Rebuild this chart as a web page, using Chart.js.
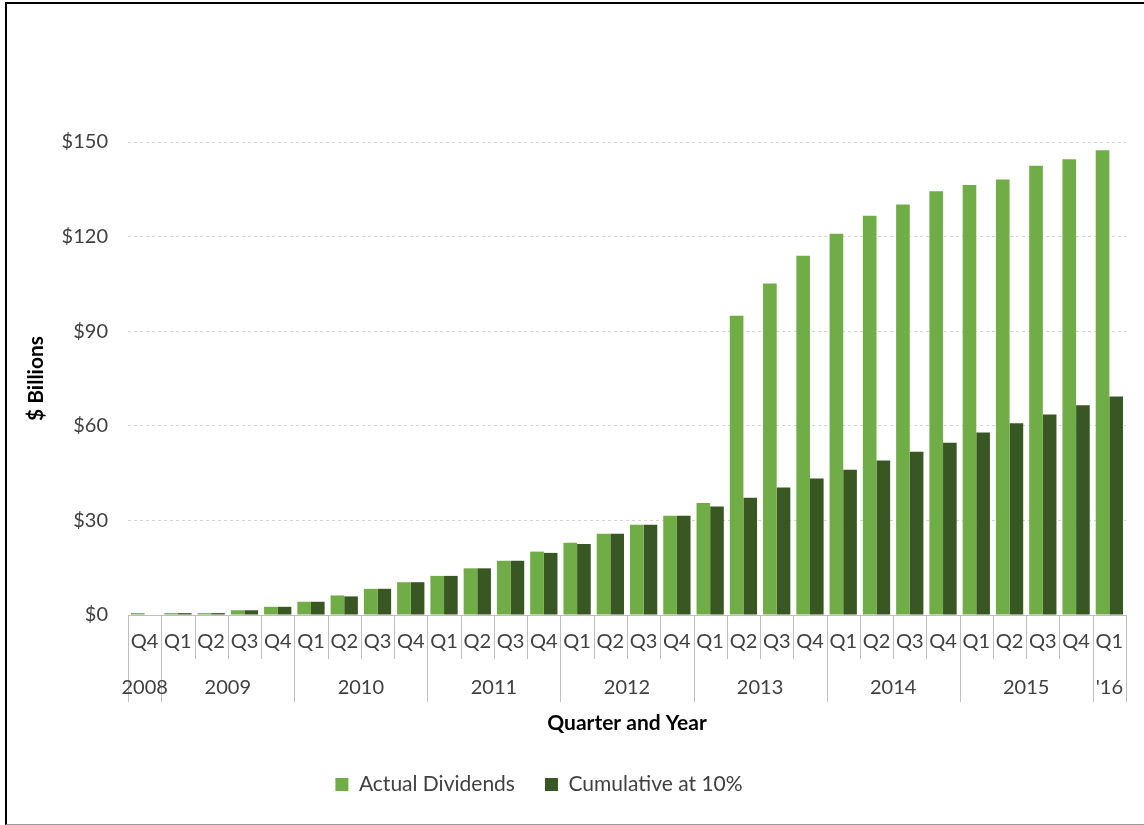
<!DOCTYPE html>
<html>
<head>
<meta charset="utf-8">
<script src="https://cdn.jsdelivr.net/npm/chart.js@4"></script>
<style>
  body { margin: 0; background: #fff; }
  #wrap { position: relative; width: 1144px; height: 825px; }
  #frame {
    position: absolute; left: 5px; top: 2px; width: 1150px; height: 820px;
    border-left: 2px solid #000; border-top: 2px solid #000; border-bottom: 1px solid #9a9a9a;
    pointer-events: none;
  }
</style>
</head>
<body>
<div id="wrap">
  <canvas id="dividendChart"></canvas>
  <div id="frame"></div>
</div>
<script>
// 분기 라벨 (Q4 2008 ~ Q1 2016)
const quarterLabels = ['Q4',
  'Q1', 'Q2', 'Q3', 'Q4',
  'Q1', 'Q2', 'Q3', 'Q4',
  'Q1', 'Q2', 'Q3', 'Q4',
  'Q1', 'Q2', 'Q3', 'Q4',
  'Q1', 'Q2', 'Q3', 'Q4',
  'Q1', 'Q2', 'Q3', 'Q4',
  'Q1', 'Q2', 'Q3', 'Q4',
  'Q1'];

// 연도 라벨과 각 연도가 차지하는 분기 수
const yearLabels = ['2008', '2009', '2010', '2011', '2012', '2013', '2014', '2015', "'16"];
const yearSpans = [1, 4, 4, 4, 4, 4, 4, 4, 1];

// 시리즈 값 ($ Billions)
const actualDividends = [0.6,
  0.6, 0.6, 1.5, 2.6,
  4.2, 6.2, 8.3, 10.4,
  12.4, 14.8, 17.2, 20.1,
  22.9, 25.8, 28.6, 31.5,
  35.5, 94.9, 105.1, 113.9,
  120.9, 126.6, 130.2, 134.4,
  136.4, 138.1, 142.5, 144.5,
  147.4];
const cumulativeAt10 = [0,
  0.6, 0.6, 1.5, 2.6,
  4.2, 5.9, 8.3, 10.4,
  12.4, 14.8, 17.2, 19.7,
  22.5, 25.8, 28.6, 31.5,
  34.4, 37.2, 40.4, 43.3,
  46.1, 49.0, 51.8, 54.6,
  57.9, 60.8, 63.6, 66.5,
  69.3];

const yTicks = [0, 30, 60, 90, 120, 150];

const LIGHT_GREEN = '#70ad47';
const DARK_GREEN = '#385723';
const TEXT_COLOR = '#404040';
const LINE_COLOR = '#bfbfbf';
const FONT = 'Lato, "Liberation Sans", sans-serif';

// 다단계 x축 (분기 구분선 + 연도 라벨)
const multiLevelAxis = {
  id: 'multiLevelAxis',
  afterLayout(chart) {
    // 범례를 엑셀처럼 약간 왼쪽으로
    if (chart.legend) {
      chart.legend.left -= 34;
      chart.legend.right -= 34;
    }
  },
  afterDraw(chart) {
    const xScale = chart.scales.x;
    const bottom = chart.chartArea.bottom;
    const step = xScale.getPixelForValue(1) - xScale.getPixelForValue(0);
    const edge = (i) => xScale.getPixelForValue(i) - step / 2;
    const ctx = chart.ctx;

    const yearEdges = [0];
    yearSpans.forEach((n) => yearEdges.push(yearEdges[yearEdges.length - 1] + n));

    ctx.save();
    ctx.strokeStyle = LINE_COLOR;
    ctx.lineWidth = 1;
    for (let i = 0; i <= quarterLabels.length; i++) {
      const x = Math.round(edge(i)) + 0.5;
      const len = yearEdges.includes(i) ? 87 : 44;
      ctx.beginPath();
      ctx.moveTo(x, bottom);
      ctx.lineTo(x, bottom + len);
      ctx.stroke();
    }

    ctx.fillStyle = TEXT_COLOR;
    ctx.font = '20px ' + FONT;
    ctx.textAlign = 'center';
    ctx.textBaseline = 'middle';
    yearLabels.forEach((label, k) => {
      const x = (edge(yearEdges[k]) + edge(yearEdges[k + 1])) / 2;
      ctx.fillText(label, x, bottom + 73);
    });
    ctx.restore();
  },
};

function createDividendChart() {
  const ctx = document.getElementById('dividendChart');
  if (!ctx) return;

  return new Chart(ctx.getContext('2d'), {
    type: 'bar',
    data: {
      labels: quarterLabels,
      datasets: [
        {
          label: 'Actual Dividends',
          data: actualDividends,
          backgroundColor: LIGHT_GREEN,
          borderWidth: 0,
        },
        {
          label: 'Cumulative at 10%',
          data: cumulativeAt10,
          backgroundColor: DARK_GREEN,
          borderWidth: 0,
        },
      ],
    },
    options: {
      responsive: true,
      maintainAspectRatio: false,
      animation: false,
      layout: {
        padding: { top: 142, left: 20, right: 18, bottom: 20 },
      },
      datasets: {
        bar: { categoryPercentage: 0.82, barPercentage: 1.0 },
      },
      plugins: {
        legend: {
          position: 'bottom',
          labels: {
            boxWidth: 13,
            boxHeight: 13,
            padding: 30,
            color: TEXT_COLOR,
            font: { family: FONT, size: 21 },
          },
        },
        tooltip: { enabled: false },
      },
      scales: {
        x: {
          grid: { display: false, drawTicks: false },
          border: { display: true, color: LINE_COLOR, width: 1 },
          ticks: {
            color: TEXT_COLOR,
            font: { family: FONT, size: 20 },
            padding: 15,
            maxRotation: 0,
            autoSkip: false,
          },
          title: {
            display: true,
            text: 'Quarter and Year',
            color: '#000',
            font: { family: FONT, size: 21, weight: 'bold' },
            padding: { top: 4, bottom: 8 },
          },
          afterFit: (scale) => {
            scale.height = 129;
          },
        },
        y: {
          min: 0,
          max: 150,
          afterBuildTicks: (scale) => {
            scale.ticks = yTicks.map((v) => ({ value: v }));
          },
          grid: { color: '#d4d4d4', drawTicks: false },
          border: { display: false, dash: [3, 3] },
          ticks: {
            color: TEXT_COLOR,
            font: { family: FONT, size: 20 },
            padding: 20,
            callback: (value) => '$' + value,
          },
          title: {
            display: true,
            text: '$ Billions',
            color: '#000',
            font: { family: FONT, size: 21, weight: 'bold' },
          },
          afterFit: (scale) => {
            scale.width = 108;
          },
        },
      },
    },
    plugins: [multiLevelAxis],
  });
}

createDividendChart();
</script>
</body>
</html>
